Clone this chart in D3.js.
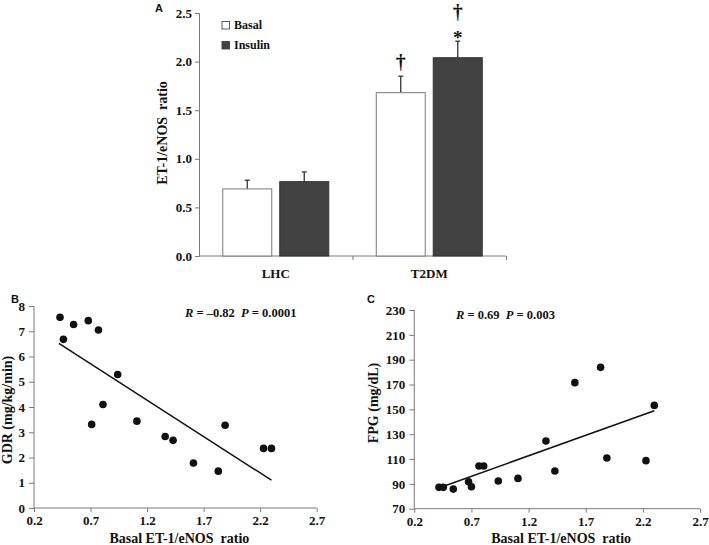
<!DOCTYPE html>
<html><head><meta charset="utf-8">
<script src="https://cdn.jsdelivr.net/npm/d3@7"></script>
<style>
body{margin:0;background:#fff;}
svg{display:block;}
text{font-family:"Liberation Serif","Times New Roman",serif;font-weight:bold;fill:#111;}
.lett{font-family:"Liberation Sans",Arial,sans-serif;font-weight:bold;}
</style></head><body>
<script>
// ---- Panel A data ----
const groups = ["LHC","T2DM"];
const seriesNames = ["Basal","Insulin"];
const basalMean = [0.69, 1.68];
const basalErr  = [0.09, 0.17];
const insulinMean = [0.765, 2.04];
const insulinErr  = [0.10, 0.17];
const yTicksA = [0.0,0.5,1.0,1.5,2.0,2.5];

// ---- Panel B data ----
const gdrX = [0.43,0.46,0.55,0.68,0.77,0.71,0.81,0.94,1.11,1.36,1.43,1.61,1.83,1.89,2.23,2.30];
const gdrY = [7.55,6.68,7.27,7.42,7.05,3.31,4.10,5.29,3.44,2.83,2.68,1.78,1.46,3.28,2.36,2.36];
const gdrFitX = [0.42,2.30];
const gdrFitY = [6.52,1.10];
const yTicksB = [0,1,2,3,4,5,6,7,8];

// ---- Panel C data ----
const fpgX = [0.416,0.454,0.541,0.675,0.70,0.766,0.807,0.935,1.107,1.352,1.43,1.605,1.83,1.885,2.227,2.30];
const fpgY = [87.2,87.2,85.8,91.7,87.7,104.4,104.4,92.3,94.4,124.5,100.3,171.5,183.8,110.8,108.7,153.2];
const fpgFitX = [0.445,2.30];
const fpgFitY = [87.7,148.9];
const yTicksC = [70,90,110,130,150,170,190,210,230];

const xTicksBC = [0.2,0.7,1.2,1.7,2.2,2.7];

const AX = "#7a7a7a";
const svg = d3.select("body").append("svg").attr("width",709).attr("height",545);

// ================= Panel A =================
const xA = d3.scaleBand().domain(groups).range([199,506]).padding(0);
const xSub = d3.scaleBand().domain(seriesNames).range([23.75, xA.bandwidth()-23.75]).paddingInner(0.14);
const yA = d3.scaleLinear().domain([0,2.5]).range([256,13]);

const gA = svg.append("g");
const yAxA = gA.append("g").attr("transform","translate(199,0)")
  .call(d3.axisLeft(yA).tickValues(yTicksA).tickFormat(d3.format(".1f")).tickSize(4).tickPadding(3));
const xAxA = gA.append("g").attr("transform","translate(0,256)")
  .call(d3.axisBottom(d3.scaleLinear().domain([0,2]).range([199,506])).tickValues([1,2]).tickSize(4).tickFormat(""));
[yAxA,xAxA].forEach(a=>{a.selectAll("path,line").attr("stroke",AX).attr("stroke-width",1);
  a.selectAll("text").attr("font-size",13).attr("fill","#111");});
xAxA.select("path.domain").attr("d","M199,0H506");

const barData = [];
groups.forEach((g,i)=>{
  barData.push({g, s:"Basal", v:basalMean[i], e:basalErr[i]});
  barData.push({g, s:"Insulin", v:insulinMean[i], e:insulinErr[i]});
});
const bars = gA.selectAll(".bar").data(barData).enter().append("g");
bars.append("line")
  .attr("x1",d=>xA(d.g)+xSub(d.s)+xSub.bandwidth()/2)
  .attr("x2",d=>xA(d.g)+xSub(d.s)+xSub.bandwidth()/2)
  .attr("y1",d=>yA(d.v)).attr("y2",d=>yA(d.v+d.e))
  .attr("stroke","#333").attr("stroke-width",1.3);
bars.append("line")
  .attr("x1",d=>xA(d.g)+xSub(d.s)+xSub.bandwidth()/2-2.5)
  .attr("x2",d=>xA(d.g)+xSub(d.s)+xSub.bandwidth()/2+2.5)
  .attr("y1",d=>yA(d.v+d.e)).attr("y2",d=>yA(d.v+d.e))
  .attr("stroke","#333").attr("stroke-width",1.3);
bars.append("rect")
  .attr("x",d=>xA(d.g)+xSub(d.s))
  .attr("width",xSub.bandwidth())
  .attr("y",d=>yA(d.v)).attr("height",d=>256-yA(d.v))
  .attr("fill",d=>d.s==="Basal"?"#fff":"#424242")
  .attr("stroke",d=>d.s==="Basal"?"#777":"#333").attr("stroke-width",1);

gA.selectAll(".cat").data(groups).enter().append("text")
  .attr("x",d=>xA(d)+xA.bandwidth()/2).attr("y",278).attr("text-anchor","middle")
  .attr("font-size",13).text(d=>d);

const cxT2b = xA("T2DM")+xSub("Basal")+xSub.bandwidth()/2;
const cxT2i = xA("T2DM")+xSub("Insulin")+xSub.bandwidth()/2;
gA.append("text").attr("x",cxT2b).attr("y",yA(basalMean[1]+basalErr[1])-7).attr("text-anchor","middle").attr("font-size",20).attr("font-weight","normal").text("†");
gA.append("text").attr("x",cxT2i).attr("y",yA(insulinMean[1]+insulinErr[1])+3).attr("text-anchor","middle").attr("font-size",19).attr("font-weight","normal").text("*");
gA.append("text").attr("x",cxT2i).attr("y",yA(insulinMean[1]+insulinErr[1])-22).attr("text-anchor","middle").attr("font-size",20).attr("font-weight","normal").text("†");

seriesNames.forEach((s,i)=>{
  gA.append("rect").attr("x",222).attr("y",21.5+i*20).attr("width",7.5).attr("height",7.5)
    .attr("fill",s==="Basal"?"#fff":"#424242").attr("stroke","#333").attr("stroke-width",0.8);
  gA.append("text").attr("x",234).attr("y",29+i*20).attr("font-size",12).text(s);
});
gA.append("text").attr("transform","translate(167,133) rotate(-90)").attr("text-anchor","middle")
  .attr("font-size",14).text("ET-1/eNOS\u00a0 ratio");
gA.append("text").attr("class","lett").attr("x",155).attr("y",11.5).attr("font-size",11).text("A");

// ================= Scatter panels =================
function scatter(cfg){
  const g = svg.append("g");
  const x = d3.scaleLinear().domain([0.2,2.7]).range([cfg.x0,cfg.x1]);
  const y = d3.scaleLinear().domain(cfg.yd).range([cfg.y0,cfg.y1]);
  const ya = g.append("g").attr("transform",`translate(${cfg.x0},0)`)
    .call(d3.axisLeft(y).tickValues(cfg.yt).tickFormat(d3.format("d")).tickSize(5).tickPadding(4));
  const xa = g.append("g").attr("transform",`translate(0,${cfg.y0})`)
    .call(d3.axisBottom(x).tickValues(xTicksBC).tickFormat(d3.format(".1f")).tickSize(4).tickPadding(4));
  [ya,xa].forEach(a=>{a.selectAll("path,line").attr("stroke",AX).attr("stroke-width",1);
    a.selectAll("text").attr("font-size",13).attr("fill","#111");});
  ya.select("path.domain").attr("d",`M0,${cfg.y0}V${cfg.y1}`);
  xa.select("path.domain").attr("d",`M${cfg.x0},0H${cfg.x1}`);
  g.append("line").attr("x1",x(cfg.fx[0])).attr("y1",y(cfg.fy[0])).attr("x2",x(cfg.fx[1])).attr("y2",y(cfg.fy[1]))
    .attr("stroke","#111").attr("stroke-width",1.5);
  g.selectAll("circle").data(cfg.px).enter().append("circle")
    .attr("cx",d=>x(d)).attr("cy",(d,i)=>y(cfg.py[i])).attr("r",3.8).attr("fill","#111");
  g.append("text").attr("x",(cfg.x0+cfg.x1)/2+4).attr("y",543).attr("text-anchor","middle")
    .attr("font-size",14).text("Basal ET-1/eNOS\u00a0 ratio");
  g.append("text").attr("transform",`translate(${cfg.ytx},${cfg.yty}) rotate(-90)`).attr("text-anchor","middle")
    .attr("font-size",14).text(cfg.ytitle);
  g.append("text").attr("class","lett").attr("x",cfg.lx).attr("y",303).attr("font-size",11).text(cfg.letter);
  const st = g.append("text").attr("x",cfg.sx).attr("y",cfg.sy).attr("font-size",12.5);
  st.append("tspan").attr("font-style","italic").text("R");
  st.append("tspan").text(cfg.rtxt);
  st.append("tspan").attr("font-style","italic").text("P");
  st.append("tspan").text(cfg.ptxt);
}
scatter({x0:34,x1:316.7,y0:508,y1:306,yd:[0,8],yt:yTicksB,px:gdrX,py:gdrY,fx:gdrFitX,fy:gdrFitY,
  ytitle:"GDR (mg/kg/min)",ytx:12,yty:410,letter:"B",lx:11,sx:185,sy:317,rtxt:" = \u20130.82\u00a0 ",ptxt:" = 0.0001"});
scatter({x0:414.3,x1:700,y0:508.7,y1:310,yd:[70,230],yt:yTicksC,px:fpgX,py:fpgY,fx:fpgFitX,fy:fpgFitY,
  ytitle:"FPG (mg/dL)",ytx:378,yty:403,letter:"C",lx:367,sx:456,sy:319,rtxt:" = 0.69\u00a0 ",ptxt:" = 0.003"});
</script>
</body></html>
